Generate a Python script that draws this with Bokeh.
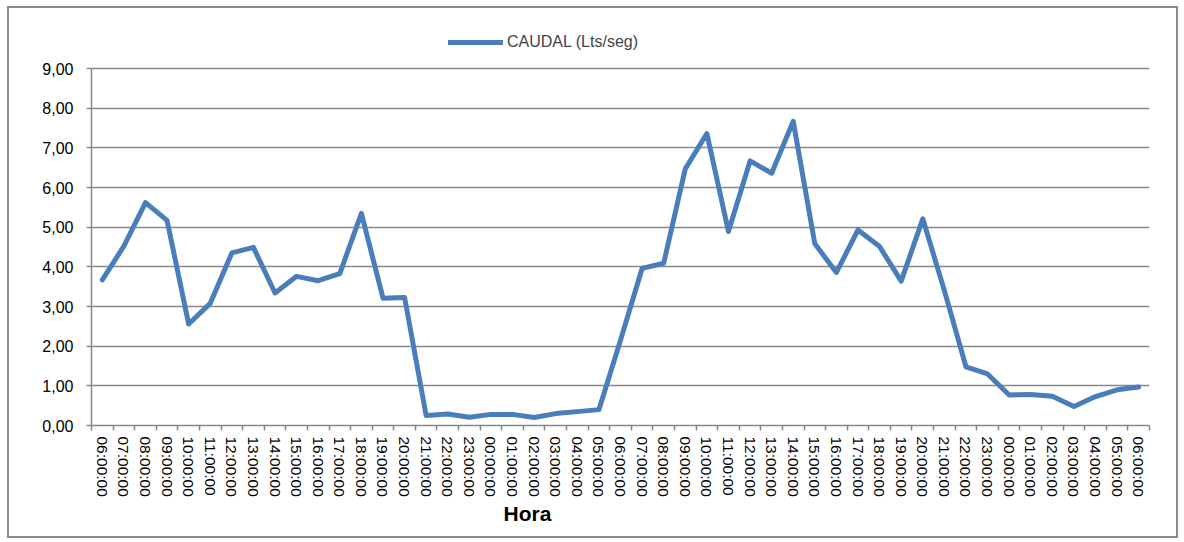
from bokeh.plotting import figure
from bokeh.models import FixedTicker, Legend, LegendItem, Title, Range1d
from bokeh.embed import file_html
from bokeh.resources import INLINE

hours = ["06:00:00", "07:00:00", "08:00:00", "09:00:00", "10:00:00", "11:00:00",
         "12:00:00", "13:00:00", "14:00:00", "15:00:00", "16:00:00", "17:00:00",
         "18:00:00", "19:00:00", "20:00:00", "21:00:00", "22:00:00", "23:00:00",
         "00:00:00", "01:00:00", "02:00:00", "03:00:00", "04:00:00", "05:00:00",
         "06:00:00", "07:00:00", "08:00:00", "09:00:00", "10:00:00", "11:00:00",
         "12:00:00", "13:00:00", "14:00:00", "15:00:00", "16:00:00", "17:00:00",
         "18:00:00", "19:00:00", "20:00:00", "21:00:00", "22:00:00", "23:00:00",
         "00:00:00", "01:00:00", "02:00:00", "03:00:00", "04:00:00", "05:00:00",
         "06:00:00"]

caudal = [3.67, 4.52, 5.62, 5.17, 2.56, 3.08, 4.35, 4.49, 3.34, 3.76, 3.65, 3.83,
          5.35, 3.21, 3.23, 0.25, 0.29, 0.21, 0.28, 0.28, 0.20, 0.30, 0.35, 0.40,
          2.15, 3.96, 4.09, 6.47, 7.36, 4.89, 6.67, 6.36, 7.67, 4.58, 3.86, 4.93,
          4.51, 3.64, 5.21, 3.40, 1.48, 1.30, 0.77, 0.78, 0.74, 0.48, 0.73, 0.90,
          0.97]

y_ticks = [0, 1, 2, 3, 4, 5, 6, 7, 8, 9]
y_tick_labels = ["0,00", "1,00", "2,00", "3,00", "4,00", "5,00", "6,00", "7,00", "8,00", "9,00"]

series_name = "CAUDAL (Lts/seg)"
x_title = "Hora"

FONT = "Liberation Sans"
GRID = "#898989"
LINE = "#4A7EBB"

n = len(hours)
xs = list(range(n))

# frame spans 407px; the 0..9 scale occupies the lower 357px, room above for the legend
y_max = y_ticks[-1]
y_top = y_max * 407.0 / 357.0

p = figure(width=1171, height=532, output_backend="svg", toolbar_location=None,
           x_range=Range1d(-0.5, n - 0.5), y_range=Range1d(0, y_top),
           min_border_left=82, min_border_right=31, min_border_top=10,
           min_border_bottom=115)
p.styles = {"border": "2px solid #8c8c8c", "margin": "6px 0 0 7px"}
p.outline_line_color = None
p.background_fill_color = "white"
p.border_fill_color = "white"

r = p.line(xs, caudal, line_color=LINE, line_width=5, line_join="round", line_cap="round")

# x axis
xa = p.xaxis[0]
xa.ticker = FixedTicker(ticks=xs, minor_ticks=[i - 0.5 for i in range(n + 1)])
xa.major_label_overrides = {i: hours[i] for i in xs}
xa.major_label_orientation = "vertical"
xa.major_tick_line_color = None
xa.major_tick_out = 0
xa.major_tick_in = 0
xa.minor_tick_line_color = GRID
xa.minor_tick_line_width = 1.5
xa.minor_tick_out = 5
xa.minor_tick_in = 0
xa.axis_line_color = GRID
xa.axis_line_width = 1.5
xa.major_label_text_font = FONT
xa.major_label_text_font_size = "15.5px"
xa.major_label_text_color = "black"
xa.major_label_standoff = 6

# y axis
ya = p.yaxis[0]
ya.ticker = FixedTicker(ticks=y_ticks)
ya.bounds = (0, y_max)
ya.major_label_overrides = {t: l for t, l in zip(y_ticks, y_tick_labels)}
ya.major_tick_line_color = GRID
ya.major_tick_line_width = 1.5
ya.major_tick_out = 5
ya.major_tick_in = 0
ya.minor_tick_line_color = None
ya.axis_line_color = GRID
ya.axis_line_width = 1.5
ya.major_label_text_font = FONT
ya.major_label_text_font_size = "16px"
ya.major_label_text_color = "black"
ya.major_label_standoff = 13

p.xgrid.grid_line_color = None
p.ygrid.grid_line_color = GRID
p.ygrid.grid_line_width = 1.5

legend = Legend(items=[LegendItem(label=series_name, renderers=[r])],
                orientation="horizontal", location=(357, 373),
                border_line_color=None, background_fill_alpha=0,
                label_text_font=FONT, label_text_font_size="16px",
                glyph_width=55, glyph_height=20, label_standoff=4,
                padding=0, margin=0)
p.add_layout(legend, "center")

p.add_layout(Title(text=x_title, align="left", offset=412, text_font=FONT,
                   text_font_size="21px", text_font_style="bold",
                   text_color="black", standoff=0, text_line_height=0.8), "below")

open("out.html", "w").write(file_html(p, INLINE))
